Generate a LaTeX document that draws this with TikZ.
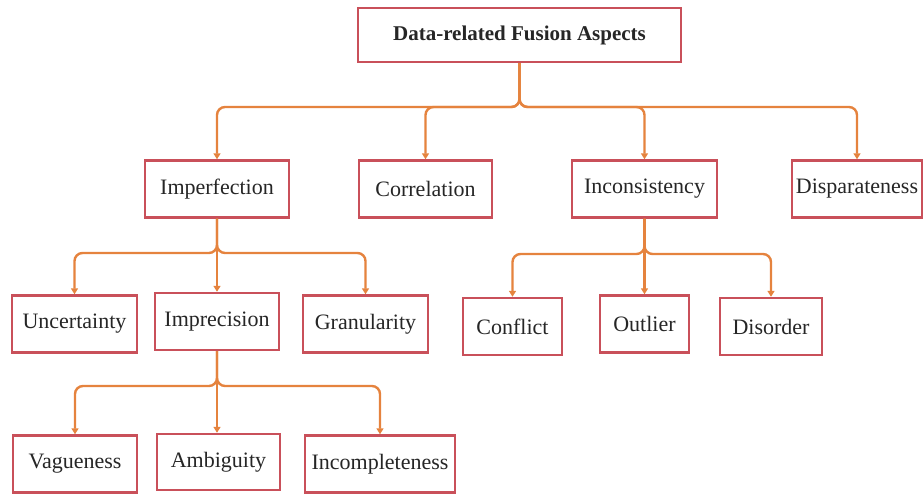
\documentclass[tikz,border=0pt]{standalone}
\usepackage{fontspec}
\setmainfont{Liberation Serif}
\usetikzlibrary{arrows.meta}
\definecolor{boxred}{HTML}{C9505A}
\definecolor{linkorange}{HTML}{E5833E}

\begin{document}
\begin{tikzpicture}[x=1pt,y=-1pt,
        box/.style={draw=boxred, line width=2.4pt, fill=white, inner sep=0pt,
            minimum height=57pt, font=\fontsize{22}{25}\selectfont, text=black!85},
        link/.style={draw=linkorange, line width=2.4pt, rounded corners=8pt,
            -{Triangle[length=6pt,width=7pt]}}]
        \useasboundingbox (0,0) rectangle (923,494);
        \node[box, minimum width=323pt, minimum height=54pt, font=\fontsize{21}{24}\selectfont\bfseries] (root) at (519.5,35) {Data-related Fusion Aspects};
        \node[box, minimum width=144pt] (imperf) at (217,189) {Imperfection};
        \node[box, minimum width=133pt] (correl) at (425.5,189) {Correlation};
        \node[box, minimum width=145pt] (incons) at (644.5,189) {Inconsistency};
        \node[box, minimum width=130pt] (dispar) at (857,189) {Disparateness};
        \node[box, minimum width=125pt] (uncert) at (74.5,324) {Uncertainty};
        \node[box, minimum width=124pt] (imprec) at (217,321.5) {Imprecision};
        \node[box, minimum width=125pt] (granul) at (365.5,324) {Granularity};
        \node[box, minimum width=99pt] (conflict) at (512.5,326.5) {Conflict};
        \node[box, minimum width=89pt] (outlier) at (644.5,324) {Outlier};
        \node[box, minimum width=102pt] (disorder) at (771,326.5) {Disorder};
        \node[box, minimum width=124pt] (vague) at (75,464) {Vagueness};
        \node[box, minimum width=123pt, minimum height=56pt] (ambig) at (218.5,462) {Ambiguity};
        \node[box, minimum width=150pt] (incomp) at (380,464) {Incompleteness};
        \coordinate (bus0) at (0,107);
        \coordinate (bus1) at (0,253);
        \coordinate (bus2) at (0,254);
        \coordinate (bus3) at (0,386);
        \draw[link] (root.south) -- (root.south |- bus0) -| (imperf.north);
        \draw[link] (root.south) -- (root.south |- bus0) -| (correl.north);
        \draw[link] (root.south) -- (root.south |- bus0) -| (incons.north);
        \draw[link] (root.south) -- (root.south |- bus0) -| (dispar.north);
        \draw[link] (imperf.south) -- (imperf.south |- bus1) -| (uncert.north);
        \draw[link] (imperf.south) -- (imprec.north);
        \draw[link] (imperf.south) -- (imperf.south |- bus1) -| (granul.north);
        \draw[link] (incons.south) -- (incons.south |- bus2) -| (conflict.north);
        \draw[link] (incons.south) -- (outlier.north);
        \draw[link] (incons.south) -- (incons.south |- bus2) -| (disorder.north);
        \draw[link] (imprec.south) -- (imprec.south |- bus3) -| (vague.north);
        \draw[link] (imprec.south) -- (ambig.north -| imprec.south);
        \draw[link] (imprec.south) -- (imprec.south |- bus3) -| (incomp.north);
    \end{tikzpicture}
\end{document}
